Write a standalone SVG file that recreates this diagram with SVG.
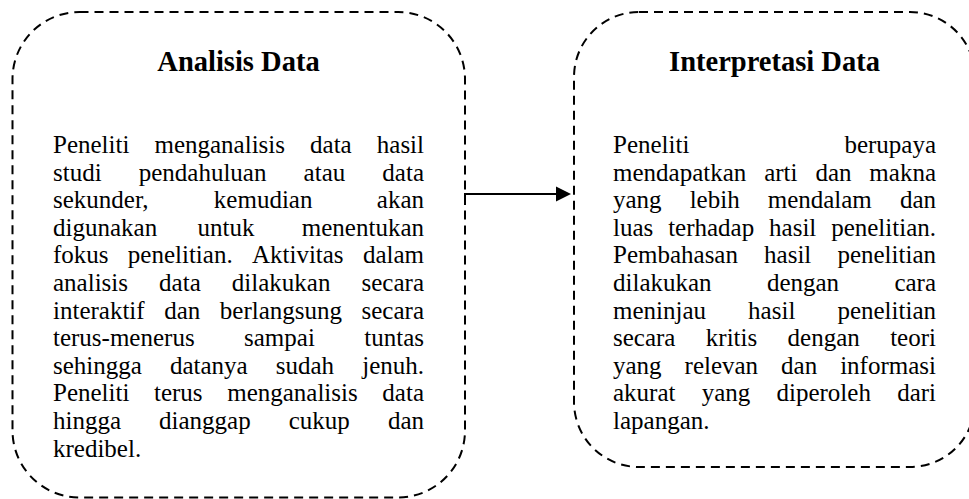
<svg xmlns="http://www.w3.org/2000/svg" width="969" height="499" viewBox="0 0 969 499">
<defs>
<style>
.box{fill:#fff;stroke:#000;stroke-width:2;stroke-dasharray:9 6}
.title{font-family:"Liberation Serif","Times New Roman",serif;font-weight:bold;font-size:28.5px;fill:#000;text-anchor:middle}
.body{font-family:"Liberation Serif","Times New Roman",serif;font-size:25px;fill:#000}
.e{text-anchor:end}
.conn{fill:none;stroke:#000;stroke-width:2}
</style>
</defs>
<rect width="969" height="499" fill="#fff"/>
<g id="node-analisis">
<rect class="box" x="12.5" y="12" width="452.5" height="485.5" rx="67" ry="67"/>
<text class="title" x="238.5" y="71">Analisis Data</text>
<text class="body" y="153"><tspan x="53">Peneliti</tspan><tspan x="154.46">menganalisis</tspan><tspan x="310.07">data</tspan></text><text class="body e" x="424" y="153">hasil</text>
<text class="body" y="180.6"><tspan x="53">studi</tspan><tspan x="138.74">pendahuluan</tspan><tspan x="303.6">atau</tspan></text><text class="body e" x="424" y="180.6">data</text>
<text class="body" y="208.2"><tspan x="53">sekunder,</tspan><tspan x="213.85">kemudian</tspan></text><text class="body e" x="424" y="208.2">akan</text>
<text class="body" y="235.8"><tspan x="53">digunakan</tspan><tspan x="197.53">untuk</tspan></text><text class="body e" x="424" y="235.8">menentukan</text>
<text class="body" y="263.4"><tspan x="53">fokus</tspan><tspan x="127.83">penelitian.</tspan><tspan x="251.95">Aktivitas</tspan></text><text class="body e" x="424" y="263.4">dalam</text>
<text class="body" y="291"><tspan x="53">analisis</tspan><tspan x="159.1">data</tspan><tspan x="231.85">dilakukan</tspan></text><text class="body e" x="424" y="291">secara</text>
<text class="body" y="318.6"><tspan x="53">interaktif</tspan><tspan x="164.18">dan</tspan><tspan x="219.81">berlangsung</tspan></text><text class="body e" x="424" y="318.6">secara</text>
<text class="body" y="346.2"><tspan x="53">terus-menerus</tspan><tspan x="244.04">sampai</tspan></text><text class="body e" x="424" y="346.2">tuntas</text>
<text class="body" y="373.8"><tspan x="53">sehingga</tspan><tspan x="169.96">datanya</tspan><tspan x="275.79">sudah</tspan></text><text class="body e" x="424" y="373.8">jenuh.</text>
<text class="body" y="401.4"><tspan x="53">Peneliti</tspan><tspan x="154">terus</tspan><tspan x="227.2">menganalisis</tspan></text><text class="body e" x="424" y="401.4">data</text>
<text class="body" y="429"><tspan x="53">hingga</tspan><tspan x="159.08">dianggap</tspan><tspan x="288.76">cukup</tspan></text><text class="body e" x="424" y="429">dan</text>
<text class="body" x="53" y="456.6">kredibel.</text>
</g>
<g id="node-interpretasi">
<rect class="box" x="574" y="12" width="401" height="455" rx="65" ry="65"/>
<text class="title" x="774.5" y="71">Interpretasi Data</text>
<text class="body" x="613" y="153">Peneliti</text><text class="body e" x="936" y="153">berupaya</text>
<text class="body" y="180.6"><tspan x="613">mendapatkan</tspan><tspan x="764.18">arti</tspan><tspan x="815.38">dan</tspan></text><text class="body e" x="936" y="180.6">makna</text>
<text class="body" y="208.2"><tspan x="613">yang</tspan><tspan x="689.65">lebih</tspan><tspan x="767.7">mendalam</tspan></text><text class="body e" x="936" y="208.2">dan</text>
<text class="body" y="235.8"><tspan x="613">luas</tspan><tspan x="668.14">terhadap</tspan><tspan x="769.07">hasil</tspan></text><text class="body e" x="936" y="235.8">penelitian.</text>
<text class="body" y="263.4"><tspan x="613">Pembahasan</tspan><tspan x="764.08">hasil</tspan></text><text class="body e" x="936" y="263.4">penelitian</text>
<text class="body" y="291"><tspan x="613">dilakukan</tspan><tspan x="766.89">dengan</tspan></text><text class="body e" x="936" y="291">cara</text>
<text class="body" y="318.6"><tspan x="613">meninjau</tspan><tspan x="748.11">hasil</tspan></text><text class="body e" x="936" y="318.6">penelitian</text>
<text class="body" y="346.2"><tspan x="613">secara</tspan><tspan x="705.83">kritis</tspan><tspan x="787.6">dengan</tspan></text><text class="body e" x="936" y="346.2">teori</text>
<text class="body" y="373.8"><tspan x="613">yang</tspan><tspan x="684.57">relevan</tspan><tspan x="781.11">dan</tspan></text><text class="body e" x="936" y="373.8">informasi</text>
<text class="body" y="401.4"><tspan x="613">akurat</tspan><tspan x="701.69">yang</tspan><tspan x="776.5">diperoleh</tspan></text><text class="body e" x="936" y="401.4">dari</text>
<text class="body" x="613" y="429">lapangan.</text>
</g>
<g id="connectors">
<path class="conn" d="M465,205 V194 H557"/>
<polygon points="556,186.5 571,194 556,201.5" fill="#000"/>
</g>
</svg>
